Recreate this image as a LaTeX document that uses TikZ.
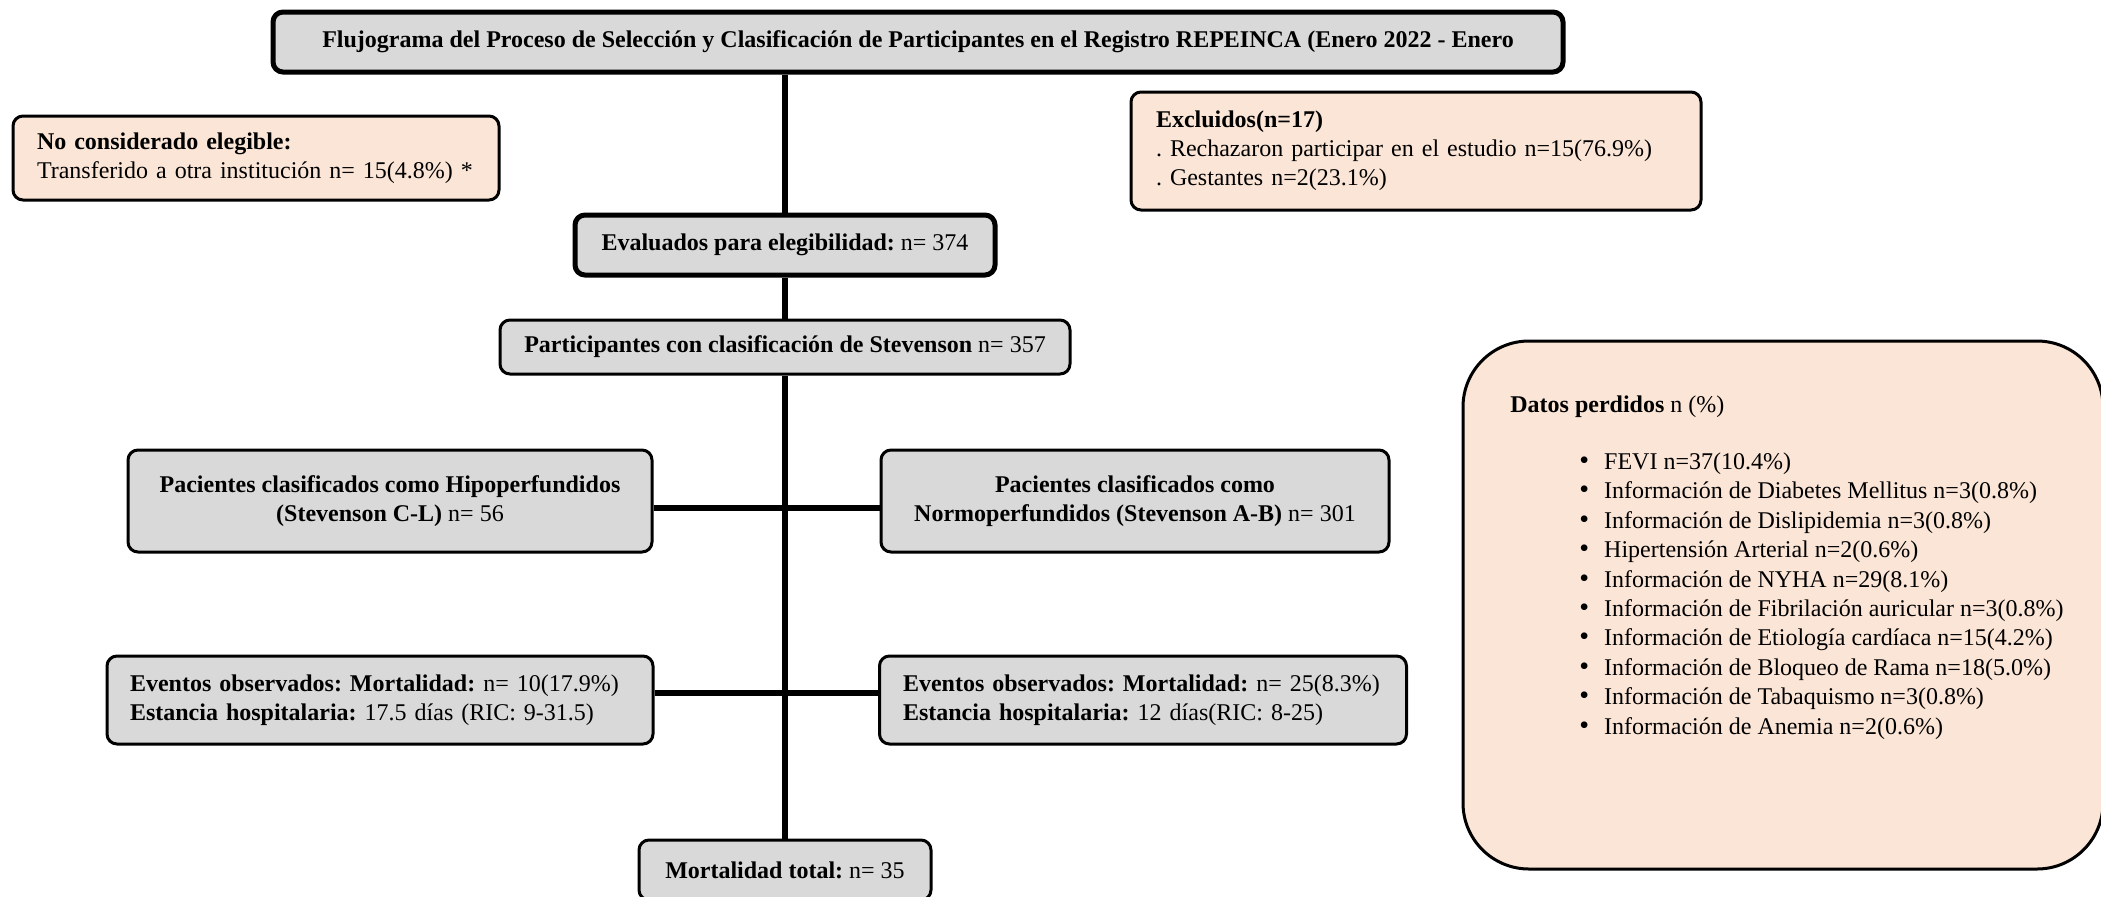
\documentclass[tikz,border=0pt]{standalone}
\usepackage{fontspec}
\setmainfont{Liberation Serif}
\frenchspacing
\definecolor{boxgrey}{HTML}{D9D9D9}
\definecolor{boxpeach}{HTML}{FBE5D6}
\newcommand{\datoitem}[1]{\hspace*{34.5pt}{\fontsize{14}{14}\selectfont\textbullet}\hspace{7.5pt}#1}

\begin{document}
\begin{tikzpicture}[x=0.5pt, y=-0.5pt]
  \tikzstyle{box}=[rectangle, draw, rounded corners=5pt, line width=1.5pt, inner sep=0pt, font=\fontsize{12}{14.4}\selectfont]
  \tikzstyle{grey}=[fill=boxgrey]
  \tikzstyle{peach}=[fill=boxpeach]
  \tikzstyle{heavy}=[line width=2.5pt]
  \tikzstyle{link}=[line width=3pt]

  \useasboundingbox (0,0) rectangle (2101,896);

  \node[box, grey, heavy, minimum width=645pt, minimum height=30pt] (1) at (918, 42)
    {\textbf{Flujograma del Proceso de Selección y Clasificación de Participantes en el Registro REPEINCA (Enero 2022 - Enero}};
  \node[box, peach, align=left, text width=219pt, inner xsep=12pt, minimum height=42pt] (2) at (256, 158)
    {\textbf{No considerado elegible:}\\Transferido a otra institución n= 15(4.8\%) *};
  \node[box, peach, align=left, text width=260pt, inner xsep=12.5pt, minimum height=59pt] (3) at (1416, 151)
    {\textbf{Excluidos(n=17)}\\. Rechazaron participar en el estudio n=15(76.9\%)\\. Gestantes n=2(23.1\%)};
  \node[box, grey, heavy, minimum width=210pt, minimum height=30pt] (4) at (785, 245)
    {\textbf{Evaluados para elegibilidad:} n= 374};
  \node[box, grey, minimum width=285pt, minimum height=27pt] (5) at (785, 347)
    {\textbf{Participantes con clasificación de Stevenson} n= 357};
  \node[box, grey, align=center, minimum width=262pt, minimum height=51pt] (6) at (390, 501)
    {\textbf{Pacientes clasificados como Hipoperfundidos}\\\textbf{(Stevenson C-L)} n= 56};
  \node[box, grey, align=center, minimum width=254pt, minimum height=51pt] (7) at (1135, 501)
    {\textbf{Pacientes clasificados como}\\\textbf{Normoperfundidos (Stevenson A-B)} n= 301};
  \node[box, grey, align=left, text width=250pt, inner xsep=11.5pt, minimum height=44pt] (8) at (380, 700)
    {\textbf{Eventos observados: Mortalidad:} n= 10(17.9\%)\\\textbf{Estancia hospitalaria:} 17.5 días (RIC: 9-31.5)};
  \node[box, grey, align=left, text width=240pt, inner xsep=11.75pt, minimum height=44pt] (9) at (1143, 700)
    {\textbf{Eventos observados: Mortalidad:} n= 25(8.3\%)\\\textbf{Estancia hospitalaria:} 12 días(RIC: 8-25)};
  \node[box, grey, minimum width=146pt, minimum height=30pt] (10) at (785, 870)
    {\textbf{Mortalidad total:} n= 35};
  \node[box, peach, rounded corners=33pt, minimum width=320pt, minimum height=264pt] (11) at (1783, 605) {};
  \node[anchor=north west, align=left, inner sep=0pt, font=\fontsize{12}{14.7}\selectfont] (12) at (1510, 395)
    {\textbf{Datos perdidos} n (\%)\\[14pt]
     \datoitem{FEVI n=37(10.4\%)}\\
     \datoitem{Información de Diabetes Mellitus n=3(0.8\%)}\\
     \datoitem{Información de Dislipidemia n=3(0.8\%)}\\
     \datoitem{Hipertensión Arterial n=2(0.6\%)}\\
     \datoitem{Información de NYHA n=29(8.1\%)}\\
     \datoitem{Información de Fibrilación auricular n=3(0.8\%)}\\
     \datoitem{Información de Etiología cardíaca n=15(4.2\%)}\\
     \datoitem{Información de Bloqueo de Rama n=18(5.0\%)}\\
     \datoitem{Información de Tabaquismo n=3(0.8\%)}\\
     \datoitem{Información de Anemia n=2(0.6\%)}};

  \path[link] (1.south -| 4.north) edge (4.north);
  \path[link] (4) edge (5);
  \path[link] (5) edge (10);
  \path[link] ([yshift=-3.5pt]6.east) edge ([yshift=-3.5pt]7.west);
  \path[link] ([yshift=3.5pt]8.east) edge ([yshift=3.5pt]9.west);
\end{tikzpicture}
\end{document}
